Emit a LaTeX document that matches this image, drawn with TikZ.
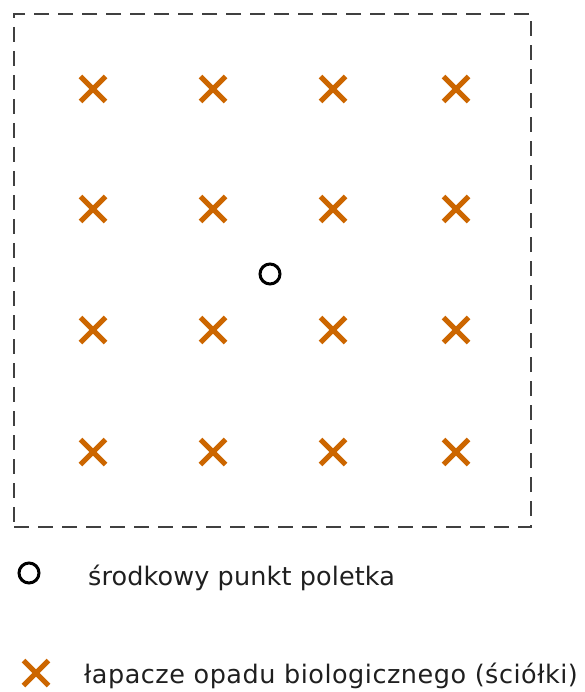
\documentclass[tikz,border=0pt]{standalone}
\usepackage{fontspec}
\setmainfont{DejaVu Sans}
\newfontfamily\lineone[LetterSpace=0.5]{DejaVu Sans}
\newfontfamily\linetwo[LetterSpace=2]{DejaVu Sans}
\usetikzlibrary{calc}
\definecolor{xorange}{HTML}{CC6600}
\begin{document}
\begin{tikzpicture}[x=1pt,y=-1pt,
  trap/.style={draw=none,minimum size=0pt,inner sep=0pt,
    append after command={
      \pgfextra{\draw[line width=5pt,draw=xorange]
        ($(\tikzlastnode)+(-12.5,-12.5)$) -- ($(\tikzlastnode)+(12.5,12.5)$)
        ($(\tikzlastnode)+(-12.5,12.5)$) -- ($(\tikzlastnode)+(12.5,-12.5)$);}}},
  centre/.style={circle,draw=black,line width=3pt,minimum size=20pt,inner sep=0pt},
  legtext/.style={anchor=base west,inner sep=0pt,text=black!88}]
\useasboundingbox (0,0) rectangle (584,692);
\node[draw=black!75,dash pattern=on 15pt off 9pt,line width=2pt,minimum width=517pt,minimum height=513pt,inner sep=0pt] (plot) at (272.5,270.5) {};
\foreach \i/\x in {1/93,2/213,3/333,4/456}{
  \foreach \j/\y in {1/89,2/209,3/330,4/452}{
    \node[trap] (t\i\j) at (\x,\y) {};
  }
}
\node[centre] (c) at (270,274) {};
\node[centre] (lc) at (29,573) {};
\node[trap] (lt) at (36,673) {};
\node[legtext,font=\lineone\fontsize{25.5}{30}\selectfont] (l1) at (88,585) {środkowy punkt poletka};
\node[legtext,font=\linetwo\fontsize{25.5}{30}\selectfont] (l2) at (84,683) {łapacze opadu biologicznego (ściółki)};
\end{tikzpicture}
\end{document}
